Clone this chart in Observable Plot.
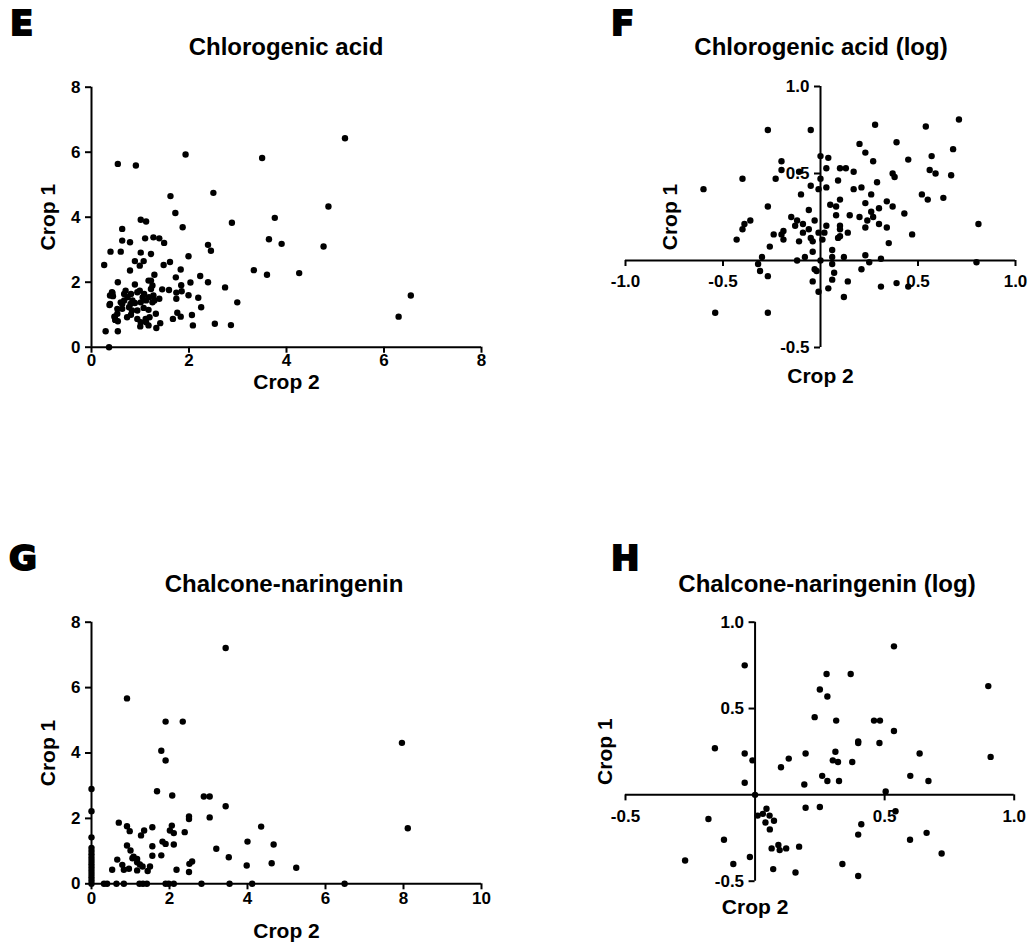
<!DOCTYPE html>
<html><head><meta charset="utf-8">
<script src="https://cdn.jsdelivr.net/npm/d3@7"></script>
<script src="https://cdn.jsdelivr.net/npm/@observablehq/plot@0.6"></script>
<style>
body{margin:0;background:#fff;}
#fig{position:relative;width:1033px;height:944px;overflow:hidden;background:#fff;}
.panel{position:absolute;}
#overlay{position:absolute;left:0;top:0;pointer-events:none;}
</style></head>
<body><div id="fig"></div>
<script>
// ---------- Data (Crop 2 = x, Crop 1 = y) ----------
const chloroCrop2 = [0.26,0.29,0.36,0.54,0.39,0.54,0.60,0.63,0.63,0.79,0.91,1.01,1.12,1.10,1.01,0.89,1.07,0.99,0.79,1.22,1.27,1.39,1.49,1.29,1.48,1.61,1.93,1.62,1.72,1.87,1.99,1.83,1.73,1.84,2.03,2.23,2.39,2.50,2.39,2.45,2.88,2.74,2.99,2.19,2.25,2.06,2.08,2.53,2.86,1.85,1.74,1.74,1.76,1.83,1.67,1.59,1.45,1.39,1.22,1.17,1.22,0.54,0.43,0.44,0.37,0.53,0.47,0.49,0.54,0.60,0.67,0.70,0.81,0.89,0.94,0.77,0.81,0.89,0.94,1.01,1.07,1.12,1.05,0.94,1.01,1.00,1.12,1.17,1.17,1.19,1.29,1.27,1.32,1.33,1.41,0.84,0.74,0.67,0.63,1.08,3.33,3.50,5.20,4.86,3.76,3.64,3.90,4.76,3.60,4.26,6.55,6.30,0.42,0.38,0.38,0.49,0.48,1.99,1.25,1.18,1.25,0.99,0.80,0.83,1.11,0.63,0.53,0.73];
const chloroCrop1 = [2.53,0.49,0.00,5.64,2.94,0.49,2.94,3.64,3.28,3.23,5.59,3.92,3.87,3.35,2.91,2.65,2.65,2.51,2.36,2.87,3.38,3.35,3.21,2.23,2.53,2.62,5.93,4.65,4.13,3.69,2.80,2.39,2.15,1.91,1.99,2.19,2.00,4.75,3.15,2.97,3.83,1.84,1.38,1.52,1.23,0.99,0.67,0.72,0.68,1.72,1.68,1.49,1.06,0.94,0.87,1.76,1.78,1.49,1.79,2.05,2.05,2.00,1.67,1.57,1.30,1.18,0.94,0.84,0.80,1.38,1.44,1.74,1.64,1.93,1.69,1.23,1.00,1.36,1.13,1.38,1.21,1.44,1.54,0.87,0.77,0.64,0.77,0.67,1.15,0.92,1.44,1.59,1.03,0.59,0.74,1.44,1.54,1.64,1.33,1.64,2.37,5.82,6.43,4.33,3.98,3.32,3.18,3.10,2.23,2.28,1.59,0.94,1.69,1.59,1.33,0.84,0.94,1.60,1.90,1.54,1.38,1.74,1.33,1.13,0.87,1.18,1.03,0.92];

const chloroLogCrop2 = [-0.60,-0.40,-0.27,-0.05,-0.20,-0.20,-0.23,-0.11,-0.05,-0.10,-0.27,-0.06,-0.36,-0.39,-0.40,-0.43,-0.15,-0.12,-0.09,-0.13,-0.03,-0.06,-0.09,-0.05,-0.04,-0.19,-0.20,-0.19,-0.24,-0.11,-0.26,-0.04,-0.08,-0.12,-0.30,-0.32,-0.31,-0.27,-0.03,-0.02,-0.04,-0.01,-0.54,-0.27,0.28,0.71,0.54,0.20,0.39,0.23,0.27,0.68,0.57,0.45,0.00,0.04,0.03,0.10,0.13,0.17,0.56,0.59,0.67,0.37,0.38,0.00,0.09,0.29,0.03,-0.01,0.17,0.21,0.52,0.55,0.63,0.26,0.10,0.34,0.23,0.05,0.08,0.37,0.30,0.26,0.43,0.08,0.15,0.20,0.27,0.24,0.81,0.30,0.34,0.23,0.10,0.03,0.10,-0.01,0.02,0.14,0.47,0.10,0.09,0.01,0.35,0.06,0.12,0.23,0.31,0.06,0.00,0.06,0.25,0.80,0.21,0.07,0.06,0.14,0.39,0.45,0.31,0.04,0.12];
const chloroLogCrop1 = [0.41,0.47,0.75,0.75,0.57,0.52,0.47,0.51,0.43,0.38,0.31,0.29,0.23,0.21,0.18,0.12,0.25,0.23,0.21,0.20,0.23,0.18,0.16,0.13,0.11,0.17,0.15,0.12,0.15,0.11,0.08,0.05,0.02,0.00,0.02,-0.02,-0.06,-0.09,-0.05,-0.06,-0.12,-0.18,-0.30,-0.30,0.78,0.81,0.77,0.67,0.68,0.62,0.57,0.64,0.60,0.58,0.60,0.59,0.53,0.53,0.53,0.51,0.52,0.50,0.49,0.50,0.48,0.47,0.46,0.45,0.42,0.41,0.41,0.42,0.38,0.35,0.36,0.38,0.35,0.34,0.33,0.32,0.31,0.31,0.30,0.28,0.27,0.26,0.26,0.25,0.25,0.23,0.21,0.21,0.19,0.19,0.20,0.20,0.18,0.16,0.16,0.16,0.15,0.14,0.13,0.12,0.10,0.06,0.02,0.03,0.01,0.02,0.00,-0.02,-0.01,-0.01,-0.05,-0.07,-0.11,-0.12,-0.13,-0.15,-0.15,-0.16,-0.21];

const chalconeCrop2 = [3.44,0.91,1.90,2.34,1.79,1.90,1.68,2.07,2.88,3.03,3.44,2.50,2.50,3.03,0.70,0.91,0.98,1.27,1.35,1.56,2.06,2.01,2.11,2.39,4.35,1.82,1.90,2.11,0.91,1.56,4.00,4.67,3.20,1.00,1.08,1.17,1.05,0.66,1.56,1.79,3.52,1.17,1.24,2.58,2.51,3.98,4.62,0.79,1.31,1.50,0.53,0.83,0.96,1.17,1.44,2.18,2.50,7.96,8.11,5.25,0,0,0,0,0,0,0,0,0,0,0,0,0,0,0,0.32,0.40,0.64,0.83,1.23,1.32,1.42,1.90,1.98,2.11,2.82,3.54,4.12,6.49];
const chalconeCrop1 = [7.21,5.67,4.96,4.96,4.07,3.77,2.83,2.70,2.67,2.67,2.37,2.06,1.98,2.03,1.87,1.76,1.61,1.48,1.63,1.73,1.78,1.63,1.55,1.58,1.75,1.29,1.22,1.20,1.17,1.15,1.29,1.20,1.07,1.02,0.83,0.76,0.78,0.74,0.86,0.87,0.81,0.66,0.59,0.68,0.61,0.56,0.63,0.58,0.53,0.53,0.43,0.43,0.46,0.41,0.39,0.43,0.36,4.31,1.70,0.49,2.90,2.22,1.42,1.10,1.00,0.90,0.80,0.70,0.60,0.50,0.40,0.30,0.20,0.10,0,0,0,0,0,0,0,0,0,0,0,0,0,0,0];

const chalconeLogCrop2 = [-0.04,-0.155,-0.04,-0.01,-0.04,0,0.25,0.23,0.195,0.13,0.10,0.19,0.195,0.25,0.01,0.03,0.044,0.056,0.073,0.04,0.057,-0.18,-0.12,0.064,0.09,0.095,0.12,0.17,-0.02,-0.27,-0.084,0.07,0.156,0.536,0.276,0.369,0.90,0.279,0.313,0.459,0.482,0.536,0.398,0.398,0.48,0.31,0.635,0.909,0.30,0.32,0.375,0.259,0.279,0.324,0.599,0.669,0.504,0.542,0.41,0.398,0.662,0.598,0.72,0.337,0.398];
const chalconeLogCrop1 = [0.75,0.27,0.24,0.20,0.07,0,0.61,0.45,0.24,0.21,0.16,0.06,-0.075,-0.07,-0.12,-0.11,-0.08,-0.12,-0.15,-0.16,-0.20,-0.14,-0.26,-0.31,-0.29,-0.32,-0.31,-0.30,-0.36,-0.38,-0.40,-0.43,-0.45,0.86,0.70,0.70,0.63,0.57,0.43,0.43,0.43,0.37,0.31,0.30,0.30,0.25,0.24,0.22,0.20,0.19,0.19,0.11,0.08,0.08,0.11,0.08,0.02,-0.095,-0.17,-0.23,-0.22,-0.26,-0.34,-0.40,-0.47];

// Axis tick values
const linTicksE = [0, 2, 4, 6, 8];
const linTicksGx = [0, 2, 4, 6, 8, 10];
const linTicksGy = [0, 2, 4, 6, 8];
const logTicksX = [-1.0, -0.5, 0.5, 1.0];
const logTicksY = [-0.5, 0.5, 1.0];
const logTicksHx = [-0.5, 0.5, 1.0];

const panelLetters = ["E", "F", "G", "H"];
const panelTitles = ["Chlorogenic acid", "Chlorogenic acid (log)", "Chalcone-naringenin", "Chalcone-naringenin (log)"];
const xTitle = "Crop 2";
const yTitle = "Crop 1";

// ---------- Drawing ----------
const FONT = "'Liberation Sans', Arial, Helvetica, sans-serif";
const TICK_FS = 17, AX_FS = 21;

function panel(o) {
  const data = o.x.map((v, i) => ({x: v, y: o.y[i]}));
  return Plot.plot({
    width: 516, height: 472,
    marginLeft: o.ml, marginRight: o.mr, marginTop: o.mt, marginBottom: o.mb,
    x: {domain: o.xDomain, axis: null},
    y: {domain: o.yDomain, axis: null},
    style: {fontFamily: FONT, background: "transparent", overflow: "visible"},
    marks: [
      Plot.ruleY([0], {strokeWidth: 2, stroke: "black"}),
      Plot.ruleX([0], {strokeWidth: 2, stroke: "black"}),
      Plot.ruleX(o.xTicks, {x: d => d, y1: 0, y2: 0, insetBottom: -6, strokeWidth: 2}),
      Plot.ruleY(o.yTicks, {y: d => d, x1: 0, x2: 0, insetLeft: -6, strokeWidth: 2}),
      Plot.text(o.xTicks, {x: d => d, y: 0, text: o.fmt, dy: o.xLabDy, fontSize: TICK_FS, fontWeight: "bold", fill: "black"}),
      Plot.text(o.yTicks, {x: 0, y: d => d, text: o.fmt, dx: -11, textAnchor: "end", fontSize: TICK_FS, fontWeight: "bold", fill: "black"}),
      Plot.text([xTitle], o.xTitleAtZero
        ? {x: 0, frameAnchor: "bottom", lineAnchor: "middle", textAnchor: "middle", dy: o.xTitleDy, fontSize: AX_FS, fontWeight: "bold", fill: "black"}
        : {frameAnchor: "bottom", lineAnchor: "middle", textAnchor: "middle", dy: o.xTitleDy, fontSize: AX_FS, fontWeight: "bold", fill: "black"}),
      Plot.text([yTitle], {frameAnchor: "left", lineAnchor: "middle", textAnchor: "middle", rotate: -90, dx: o.yTitleDx, fontSize: AX_FS, fontWeight: "bold", fill: "black"}),
      Plot.dot(data, {x: "x", y: "y", r: 3.2, fill: "black", stroke: "none"})
    ]
  });
}

const fig = document.getElementById("fig");
const linFmt = d => String(d);
const logFmt = d => d.toFixed(1);

const specs = [
  {left: 0, top: 0, x: chloroCrop2, y: chloroCrop1, xDomain: [0, 8], yDomain: [0, 8], xTicks: linTicksE, yTicks: linTicksE,
   fmt: linFmt, ml: 91, mr: 35, mt: 86.7, mb: 125.3, xLabDy: 13, xTitleDy: 35, yTitleDx: -43, xTitleAtZero: false},
  {left: 516, top: 0, x: chloroLogCrop2, y: chloroLogCrop1, xDomain: [-1, 1], yDomain: [-0.5, 1], xTicks: logTicksX, yTicks: logTicksY,
   fmt: logFmt, ml: 109, mr: 17, mt: 86, mb: 125, xLabDy: 21, xTitleDy: 29, yTitleDx: 45, xTitleAtZero: true},
  {left: 0, top: 472, x: chalconeCrop2, y: chalconeCrop1, xDomain: [0, 10], yDomain: [0, 8], xTicks: linTicksGx, yTicks: linTicksGy,
   fmt: linFmt, ml: 91, mr: 35, mt: 149.7, mb: 60.7, xLabDy: 15, xTitleDy: 47, yTitleDx: -43, xTitleAtZero: false},
  {left: 516, top: 472, x: chalconeLogCrop2, y: chalconeLogCrop1, xDomain: [-0.5, 1], yDomain: [-0.5, 1], xTicks: logTicksHx, yTicks: logTicksY,
   fmt: logFmt, ml: 109, mr: 18.3, mt: 149.7, mb: 63.3, xLabDy: 22, xTitleDy: 26, yTitleDx: -20, xTitleAtZero: true}
];

for (const s of specs) {
  const el = panel(s);
  el.classList.add("panel");
  el.style.left = s.left + "px";
  el.style.top = s.top + "px";
  fig.appendChild(el);
}

// overlay: panel letters and titles
const svg = d3.select(fig).append("svg").attr("id", "overlay").attr("width", 1033).attr("height", 944);
const letterPos = [[10, 35], [611, 35], [9, 570], [611, 570]];
const titlePos = [[286, 55], [821, 55], [284, 592], [827, 592]];
panelLetters.forEach((t, i) => {
  svg.append("text").attr("x", letterPos[i][0]).attr("y", letterPos[i][1])
    .attr("font-family", "'DejaVu Sans', sans-serif").attr("font-weight", "bold").attr("font-size", 34)
    .attr("stroke", "black").attr("stroke-width", 2).attr("fill", "black").text(t);
});
panelTitles.forEach((t, i) => {
  svg.append("text").attr("x", titlePos[i][0]).attr("y", titlePos[i][1]).attr("text-anchor", "middle")
    .attr("font-family", FONT).attr("font-weight", "bold").attr("font-size", 24).attr("fill", "black").text(t);
});
</script>
</body></html>
